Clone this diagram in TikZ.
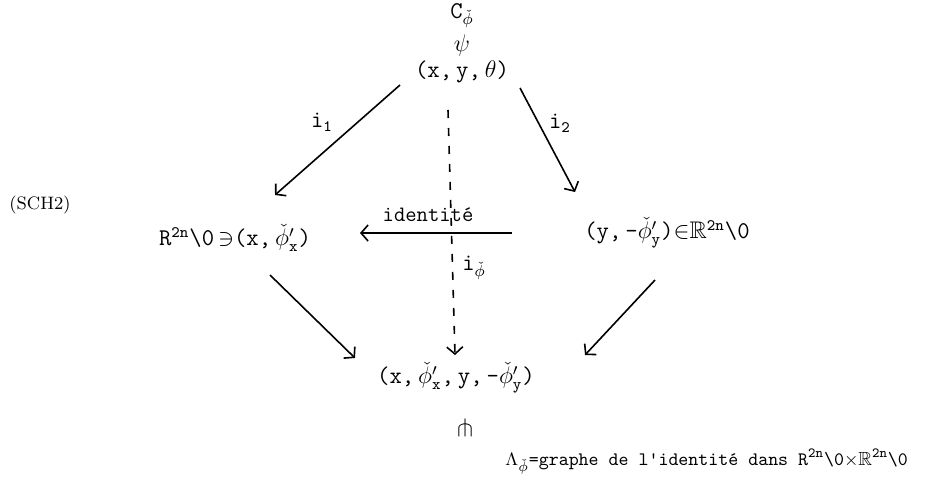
\documentclass[tikz,border=0pt]{standalone}
\usepackage{amssymb}
\usepackage{mathtools}
\usetikzlibrary{positioning,arrows.meta,calc}
\newcommand{\phv}{\check{\phi}}
\newcommand{\tz}[1]{\mathtt{#1}}
\newcommand{\Rdeux}{R$^{\tz{2n}}$\textbackslash 0}
\newcommand{\Rbb}{$\mathbb{R}^{\tz{2n}}$\textbackslash 0}
\tikzset{
  tw/.style={font=\fontsize{12}{14}\selectfont\ttfamily, inner sep=1pt},
  fl/.style={-{Straight Barb[length=3.5pt,width=8pt]}, line width=0.8pt},
}

\begin{document}
\begin{tikzpicture}[x=0.5pt,y=-0.5pt]
  \useasboundingbox (0,0) rectangle (929,483);
  \node[tw] (cphi) at (462,16) {C$_{\phv}$};
  \node[tw] (inc) at (462,45) {$\psi$};
  \node[tw] (top) at (462,72) {(x,\,y,\,$\theta$)};
  \node[font=\small] (sch) at (40,205) {(SCH2)};
  \node[tw] (l) at (235,238) {\Rdeux\,$\ni$(x,\,$\phv'_{\tz{x}}$)};
  \node[tw] (r) at (667,233) {(y,\,-$\phv'_{\tz{y}}$)$\in$\Rbb};
  \node[tw] (bot) at (456,378) {(x,\,$\phv'_{\tz{x}}$,\,y,\,-$\phv'_{\tz{y}}$)};
  \node[tw] (ni) at (465,428) {$\pitchfork$};
  \node[tw,font=\fontsize{9.5}{11}\selectfont\ttfamily,anchor=west] (cap) at (503,462)
    {$\Lambda_{\phv}$=graphe de l'identité dans\ \Rdeux$\times$\Rbb};

  \node[tw] (li1) at (322,122) {i$_{\tz{1}}$};
  \node[tw] (li2) at (560,123) {i$_{\tz{2}}$};
  \node[tw,font=\fontsize{11}{13}\selectfont\ttfamily] (lid) at (428,215) {identité};
  \node[tw] (liphi) at (474,268) {i$_{\phv}$};

  \draw[fl] ($(top)+(-62,13)$) -- ($(l)+(40,-43)$);
  \draw[fl] ($(top)+(58,16)$) -- ($(r)+(-92,-41)$);
  \draw[fl] ($(r)+(-155,0)$) -- ($(l)+(125,-5)$);
  \draw[fl,dash pattern=on 4pt off 5pt] ($(top)+(-14,38)$) -- ($(bot)+(-1,-23)$);
  \draw[fl] ($(l)+(35,37)$) -- ($(bot)+(-101,-20)$);
  \draw[fl] ($(r)+(-12,47)$) -- ($(bot)+(129,-23)$);
\end{tikzpicture}
\end{document}
